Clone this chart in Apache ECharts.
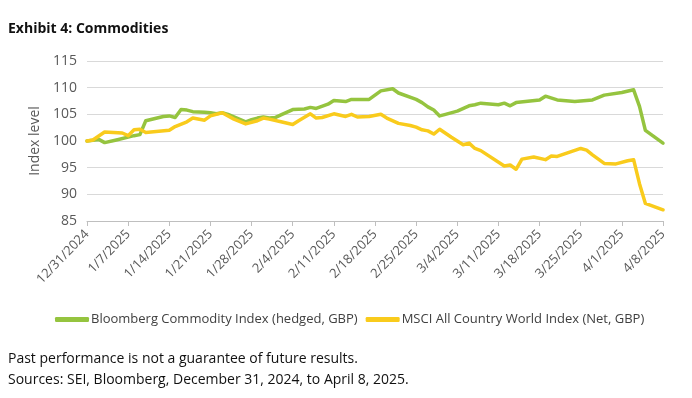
<!DOCTYPE html>
<html>
<head>
<meta charset="utf-8">
<script src="https://cdn.jsdelivr.net/npm/echarts@6/dist/echarts.min.js"></script>
<style>
  html, body { margin: 0; padding: 0; background: #fff; }
  #chart { width: 692px; height: 398px; }
</style>
</head>
<body>
<div id="chart"></div>
<script>
// Bloomberg Commodity Index (hedged, GBP)
var bcomDates = ['12/31/2024', '1/2/2025', '1/3/2025', '1/5/2025', '1/8/2025', '1/9/2025', '1/10/2025',
  '1/13/2025', '1/14/2025', '1/15/2025', '1/16/2025', '1/17/2025', '1/18/2025', '1/20/2025', '1/21/2025',
  '1/22/2025', '1/23/2025', '1/24/2025', '1/27/2025', '1/28/2025', '1/29/2025', '1/30/2025', '1/31/2025',
  '2/1/2025', '2/2/2025', '2/4/2025', '2/6/2025', '2/7/2025', '2/8/2025', '2/10/2025', '2/11/2025',
  '2/13/2025', '2/14/2025', '2/17/2025', '2/18/2025', '2/19/2025', '2/21/2025', '2/22/2025', '2/25/2025',
  '2/26/2025', '2/27/2025', '2/28/2025', '3/1/2025', '3/2/2025', '3/4/2025', '3/6/2025', '3/7/2025',
  '3/8/2025', '3/11/2025', '3/12/2025', '3/13/2025', '3/14/2025', '3/18/2025', '3/19/2025', '3/21/2025',
  '3/24/2025', '3/27/2025', '3/29/2025', '4/1/2025', '4/3/2025', '4/4/2025', '4/5/2025', '4/8/2025'];
var bcomValues = [100.0, 100.3, 99.7, 100.2, 101.0, 101.2, 103.8,
  104.6, 104.7, 104.4, 105.9, 105.8, 105.5, 105.4, 105.3,
  105.1, 105.3, 105.0, 103.6, 104.0, 104.3, 104.5, 104.3,
  104.4, 104.9, 105.9, 106.0, 106.3, 106.1, 106.9, 107.6,
  107.4, 107.8, 107.8, 108.6, 109.4, 109.8, 109.0, 107.8,
  107.2, 106.4, 105.8, 104.7, 105.0, 105.6, 106.6, 106.8,
  107.1, 106.8, 107.1, 106.6, 107.2, 107.7, 108.4, 107.7,
  107.4, 107.7, 108.6, 109.1, 109.6, 106.5, 102.0, 99.6];

// MSCI All Country World Index (Net, GBP)
var acwiDates = ['12/31/2024', '1/1/2025', '1/3/2025', '1/6/2025', '1/7/2025', '1/8/2025', '1/9/2025',
  '1/10/2025', '1/14/2025', '1/15/2025', '1/17/2025', '1/18/2025', '1/20/2025', '1/21/2025', '1/23/2025',
  '1/25/2025', '1/27/2025', '1/29/2025', '1/30/2025', '1/31/2025', '2/2/2025', '2/4/2025', '2/5/2025',
  '2/7/2025', '2/8/2025', '2/9/2025', '2/11/2025', '2/13/2025', '2/14/2025', '2/15/2025', '2/17/2025',
  '2/19/2025', '2/20/2025', '2/22/2025', '2/24/2025', '2/25/2025', '2/26/2025', '2/27/2025', '2/28/2025',
  '3/1/2025', '3/3/2025', '3/5/2025', '3/6/2025', '3/7/2025', '3/8/2025', '3/12/2025', '3/13/2025',
  '3/14/2025', '3/15/2025', '3/17/2025', '3/19/2025', '3/20/2025', '3/21/2025', '3/25/2025', '3/26/2025',
  '3/27/2025', '3/29/2025', '3/31/2025', '4/2/2025', '4/3/2025', '4/4/2025', '4/5/2025', '4/8/2025'];
var acwiValues = [100.0, 100.2, 101.7, 101.5, 101.0, 102.1, 102.2,
  101.6, 102.0, 102.7, 103.6, 104.3, 103.9, 104.7, 105.3,
  104.1, 103.2, 103.8, 104.3, 104.1, 103.6, 103.1, 103.8,
  105.1, 104.3, 104.4, 105.1, 104.6, 105.0, 104.5, 104.6,
  105.0, 104.3, 103.3, 102.9, 102.6, 102.1, 101.9, 101.3,
  102.2, 100.7, 99.3, 99.6, 98.6, 98.2, 95.3, 95.5,
  94.7, 96.6, 97.0, 96.5, 97.2, 97.1, 98.6, 98.3,
  97.4, 95.8, 95.7, 96.3, 96.5, 92.0, 88.3, 87.1];

var seriesNames = ['Bloomberg Commodity Index (hedged, GBP)', 'MSCI All Country World Index (Net, GBP)'];
var yTicks = [85, 90, 95, 100, 105, 110, 115];

var startDate = Date.UTC(2024, 11, 31);
var DAY = 86400000;

function toDay(s) {
  var p = s.split('/');
  return (Date.UTC(+p[2], +p[0] - 1, +p[1]) - startDate) / DAY;
}
function dayLabel(v) {
  var d = new Date(startDate + v * DAY);
  return (d.getUTCMonth() + 1) + '/' + d.getUTCDate() + '/' + d.getUTCFullYear();
}
function pairs(dates, vals) {
  return dates.map(function (s, i) { return [toDay(s), vals[i]]; });
}

var font = '"Open Sans", "Noto Sans", sans-serif';
var chart = echarts.init(document.getElementById('chart'));

chart.setOption({
  animation: false,
  backgroundColor: '#fff',
  textStyle: { fontFamily: font },
  title: {
    text: 'Exhibit 4: Commodities',
    left: 3,
    top: 17,
    textStyle: { fontSize: 14, fontWeight: 'bold', color: '#111', fontFamily: font }
  },
  grid: { left: 87, right: 29, top: 61, bottom: 177 },
  legend: {
    top: 308,
    left: 50,
    itemWidth: 34,
    itemHeight: 5,
    itemGap: 8,
    icon: 'roundRect',
    textStyle: { fontSize: 13, color: '#404040', fontFamily: font, padding: [0, 0, 0, -3] },
    data: seriesNames
  },
  xAxis: {
    type: 'value',
    min: 0,
    max: 98,
    interval: 7,
    splitLine: { show: false },
    axisLine: { lineStyle: { color: '#bfbfbf' } },
    axisTick: { show: true, length: 5, lineStyle: { color: '#bfbfbf' } },
    axisLabel: {
      rotate: 46,
      margin: 11,
      fontSize: 13,
      color: '#595959',
      fontFamily: font,
      formatter: dayLabel
    }
  },
  yAxis: {
    type: 'value',
    min: yTicks[0],
    max: yTicks[yTicks.length - 1],
    interval: 5,
    name: 'Index level',
    nameLocation: 'middle',
    nameGap: 40,
    nameTextStyle: { fontSize: 14, color: '#595959', fontFamily: font },
    axisLine: { show: false },
    axisTick: { show: false },
    axisLabel: { fontSize: 14, color: '#595959', margin: 10, fontFamily: font },
    splitLine: { lineStyle: { color: '#d9d9d9' } }
  },
  series: [
    {
      name: seriesNames[0],
      type: 'line',
      data: pairs(bcomDates, bcomValues),
      showSymbol: false,
      color: '#95c43f',
      lineStyle: { width: 3.5, color: '#95c43f', join: 'round', cap: 'round' }
    },
    {
      name: seriesNames[1],
      type: 'line',
      data: pairs(acwiDates, acwiValues),
      showSymbol: false,
      color: '#f9cb1c',
      lineStyle: { width: 3.5, color: '#f9cb1c', join: 'round', cap: 'round' }
    }
  ],
  graphic: [
    {
      type: 'text',
      left: 8,
      top: 352,
      style: { text: 'Past performance is not a guarantee of future results.', fontSize: 14, fill: '#111', fontFamily: font }
    },
    {
      type: 'text',
      left: 8,
      top: 373,
      style: { text: 'Sources: SEI, Bloomberg, December 31, 2024, to April 8, 2025.', fontSize: 14, fill: '#111', fontFamily: font }
    }
  ]
});
</script>
</body>
</html>
